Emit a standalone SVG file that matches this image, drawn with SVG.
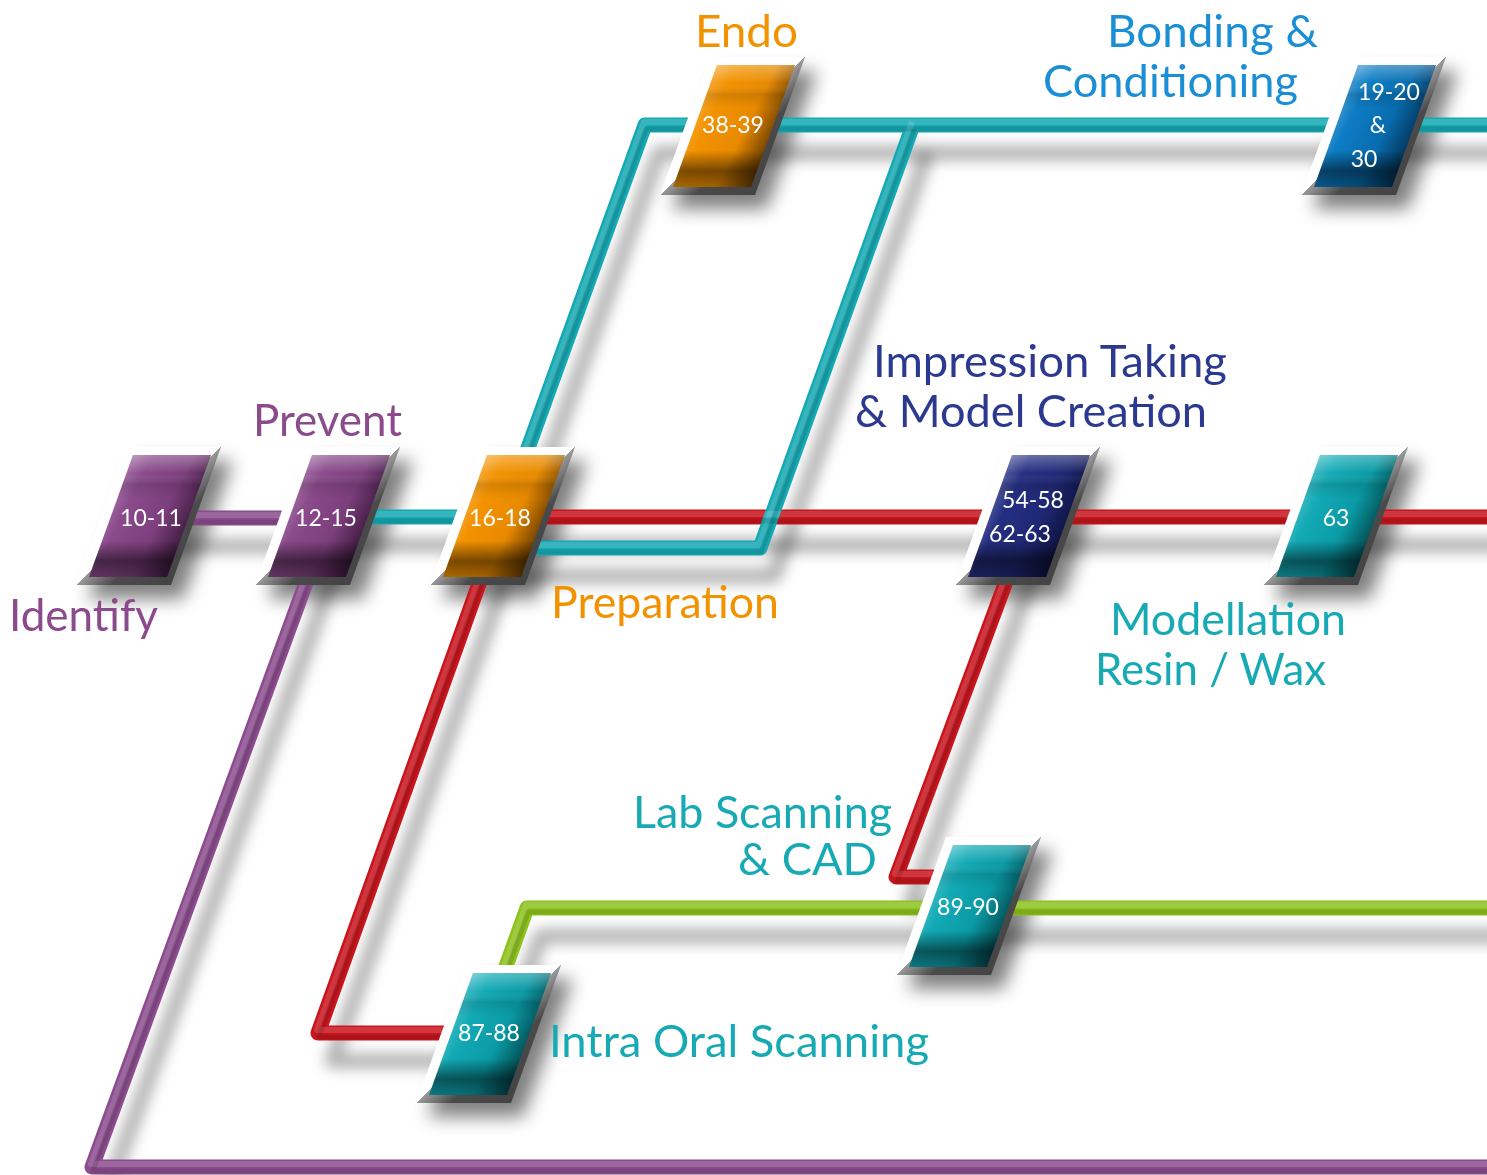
<svg xmlns="http://www.w3.org/2000/svg" xmlns:xlink="http://www.w3.org/1999/xlink" width="1487" height="1175" viewBox="0 0 1487 1175">
<style>
.ln{fill:none;stroke-width:15;stroke-linejoin:round}
.hl{fill:none;stroke:#fff;stroke-opacity:.14;stroke-width:6;stroke-linejoin:round}
.dk{fill:none;stroke:#000;stroke-opacity:.12;stroke-width:5;stroke-linejoin:round}
.sh{fill:none;stroke:#000;stroke-opacity:.3;stroke-width:15;stroke-linejoin:round}
.num{font-family:Lato,"Liberation Sans",sans-serif;font-size:23px;fill:#fff;text-anchor:middle}
.lbl{font-family:Lato,"Liberation Sans",sans-serif;font-size:44px}
</style>
<defs>
<path id="inner" d="M0,0 L78,0 L34,122 L-44,122 Z"/>
<path id="frame" d="M-7,-8 L88,-8 L38,130 L-57,130 Z"/>
<filter id="lsh" x="-10%" y="-10%" width="120%" height="120%"><feGaussianBlur stdDeviation="7"/></filter>
<filter id="nsh" x="-60%" y="-40%" width="220%" height="180%"><feGaussianBlur stdDeviation="9"/></filter>
<linearGradient id="bev" x1="0" y1="0" x2="1" y2="1">
<stop offset="0" stop-color="#fff"/><stop offset="0.5" stop-color="#fff"/><stop offset="0.5" stop-color="#9a9a9a"/><stop offset="0.62" stop-color="#4a4a4a"/><stop offset="1" stop-color="#3e3e3e"/>
</linearGradient>
<linearGradient id="ov" x1="0" y1="0" x2="0" y2="1">
<stop offset="0" stop-color="#fff" stop-opacity=".3"/>
<stop offset=".15" stop-color="#fff" stop-opacity="0"/>
<stop offset=".24" stop-color="#000" stop-opacity=".12"/>
<stop offset=".36" stop-color="#000" stop-opacity="0"/>
<stop offset=".7" stop-color="#000" stop-opacity="0"/>
<stop offset=".87" stop-color="#000" stop-opacity=".5"/>
<stop offset="1" stop-color="#000" stop-opacity=".3"/>
</linearGradient>
<linearGradient id="g-pu" x1="0" y1="0" x2="1" y2="0.5">
<stop offset="0" stop-color="#d4b2d4"/><stop offset=".42" stop-color="#8a4a8b"/><stop offset=".68" stop-color="#7c3f7d"/><stop offset="1" stop-color="#240b25"/>
</linearGradient>
<linearGradient id="g-or" x1="0" y1="0" x2="1" y2="0.5">
<stop offset="0" stop-color="#fbd49a"/><stop offset=".42" stop-color="#f39200"/><stop offset=".68" stop-color="#e88a00"/><stop offset="1" stop-color="#3a1f00"/>
</linearGradient>
<linearGradient id="g-te" x1="0" y1="0" x2="1" y2="0.5">
<stop offset="0" stop-color="#a6e2e6"/><stop offset=".42" stop-color="#12aab5"/><stop offset=".68" stop-color="#0a9aa5"/><stop offset="1" stop-color="#002a2d"/>
</linearGradient>
<linearGradient id="g-bl" x1="0" y1="0" x2="1" y2="0.5">
<stop offset="0" stop-color="#a5d4f0"/><stop offset=".42" stop-color="#0c7cc4"/><stop offset=".68" stop-color="#086cae"/><stop offset="1" stop-color="#001d36"/>
</linearGradient>
<linearGradient id="g-nv" x1="0" y1="0" x2="1" y2="0.5">
<stop offset="0" stop-color="#b8bde0"/><stop offset=".42" stop-color="#252f82"/><stop offset=".68" stop-color="#1f2874"/><stop offset="1" stop-color="#07092a"/>
</linearGradient>
</defs>
<rect width="1487" height="1175" fill="#fff"/>

<g id="shadows">
<g transform="translate(14,28)" filter="url(#lsh)">
<path class="sh" d="M150,518 H330"/>
<path class="sh" d="M330,517 L92,1167 H1520"/>
<path class="sh" d="M330,517 H503"/>
<path class="sh" d="M503,517 L645,125 H1520"/>
<path class="sh" d="M503,548 H760 L913,125"/>
<path class="sh" d="M503,517 H1520"/>
<path class="sh" d="M503,517 L318,1033 H490"/>
<path class="sh" d="M1030,517 L896,877 H960"/>
<path class="sh" d="M482,1033 L527,908 H1520"/>
</g>
<g fill="#000" opacity=".5" filter="url(#nsh)">
<use xlink:href="#frame" transform="translate(145,469)"/>
<use xlink:href="#frame" transform="translate(325,469)"/>
<use xlink:href="#frame" transform="translate(499,469)"/>
<use xlink:href="#frame" transform="translate(729,79)"/>
<use xlink:href="#frame" transform="translate(1370,79)"/>
<use xlink:href="#frame" transform="translate(1024,469)"/>
<use xlink:href="#frame" transform="translate(1332,469)"/>
<use xlink:href="#frame" transform="translate(965,859)"/>
<use xlink:href="#frame" transform="translate(485,987)"/>
</g>
</g>

<g id="connectors">
<g id="c-purple" stroke="#8c4d8e">
<path class="ln" d="M150,518 H330"/>
<path class="ln" d="M330,517 L92,1167 H1520"/>
</g>
<g id="c-red" stroke="#c8161e">
<path class="ln" d="M503,517 H1520"/>
<path class="ln" d="M503,517 L318,1033 H490"/>
<path class="ln" d="M1030,517 L896,877 H960"/>
</g>
<g id="c-teal" stroke="#17a9b3">
<path class="ln" d="M330,517 H503"/>
<path class="ln" d="M503,517 L645,125 H1520"/>
<path class="ln" d="M503,548 H760 L913,125"/>
</g>
<g id="c-green" stroke="#8dc21f">
<path class="ln" d="M482,1033 L527,908 H1520"/>
</g>
<g id="c-hl" transform="translate(-1,-3)">
<path class="hl" d="M150,518 H330"/>
<path class="hl" d="M330,517 L92,1167 H1520"/>
<path class="hl" d="M503,517 H1520"/>
<path class="hl" d="M503,517 L318,1033 H490"/>
<path class="hl" d="M1030,517 L896,877 H960"/>
<path class="hl" d="M330,517 H503"/>
<path class="hl" d="M503,517 L645,125 H1520"/>
<path class="hl" d="M503,548 H760 L913,125"/>
<path class="hl" d="M482,1033 L527,908 H1520"/>
</g>
<g id="c-dk" transform="translate(1,4)">
<path class="dk" d="M150,518 H330"/>
<path class="dk" d="M330,517 L92,1167 H1520"/>
<path class="dk" d="M503,517 H1520"/>
<path class="dk" d="M503,517 L318,1033 H490"/>
<path class="dk" d="M1030,517 L896,877 H960"/>
<path class="dk" d="M330,517 H503"/>
<path class="dk" d="M503,517 L645,125 H1520"/>
<path class="dk" d="M503,548 H760 L913,125"/>
<path class="dk" d="M482,1033 L527,908 H1520"/>
</g>
</g>

<g id="node-10-11" transform="translate(133,455)">
<use xlink:href="#frame" fill="url(#bev)"/><use xlink:href="#inner" fill="url(#g-pu)"/><use xlink:href="#inner" fill="url(#ov)"/>
<text class="num" x="18" y="71">10-11</text>
</g>
<g id="node-12-15" transform="translate(312,455)">
<use xlink:href="#frame" fill="url(#bev)"/><use xlink:href="#inner" fill="url(#g-pu)"/><use xlink:href="#inner" fill="url(#ov)"/>
<text class="num" x="14" y="71">12-15</text>
</g>
<g id="node-16-18" transform="translate(487,455)">
<use xlink:href="#frame" fill="url(#bev)"/><use xlink:href="#inner" fill="url(#g-or)"/><use xlink:href="#inner" fill="url(#ov)"/>
<text class="num" x="13" y="71">16-18</text>
</g>
<g id="node-38-39" transform="translate(717,65)">
<use xlink:href="#frame" fill="url(#bev)"/><use xlink:href="#inner" fill="url(#g-or)"/><use xlink:href="#inner" fill="url(#ov)"/>
<text class="num" x="16" y="68">38-39</text>
</g>
<g id="node-19-20" transform="translate(1358,65)">
<use xlink:href="#frame" fill="url(#bev)"/><use xlink:href="#inner" fill="url(#g-bl)"/><use xlink:href="#inner" fill="url(#ov)"/>
<text class="num" x="31" y="35">19-20</text>
<text class="num" x="20" y="68">&amp;</text>
<text class="num" x="6" y="102">30</text>
</g>
<g id="node-54-58" transform="translate(1012,455)">
<use xlink:href="#frame" fill="url(#bev)"/><use xlink:href="#inner" fill="url(#g-nv)"/><use xlink:href="#inner" fill="url(#ov)"/>
<text class="num" x="21" y="53">54-58</text>
<text class="num" x="8" y="87">62-63</text>
</g>
<g id="node-63" transform="translate(1320,455)">
<use xlink:href="#frame" fill="url(#bev)"/><use xlink:href="#inner" fill="url(#g-te)"/><use xlink:href="#inner" fill="url(#ov)"/>
<text class="num" x="16" y="71">63</text>
</g>
<g id="node-89-90" transform="translate(953,845)">
<use xlink:href="#frame" fill="url(#bev)"/><use xlink:href="#inner" fill="url(#g-te)"/><use xlink:href="#inner" fill="url(#ov)"/>
<text class="num" x="15" y="70">89-90</text>
</g>
<g id="node-87-88" transform="translate(473,973)">
<use xlink:href="#frame" fill="url(#bev)"/><use xlink:href="#inner" fill="url(#g-te)"/><use xlink:href="#inner" fill="url(#ov)"/>
<text class="num" x="16" y="68">87-88</text>
</g>

<g id="labels">
<text class="lbl" x="695" y="47" fill="#f39200" textLength="103" lengthAdjust="spacingAndGlyphs">Endo</text>
<text class="lbl" x="1107" y="47" fill="#1b8fd5" textLength="211" lengthAdjust="spacingAndGlyphs">Bonding &amp;</text>
<text class="lbl" x="1043" y="97" fill="#1b8fd5" textLength="255" lengthAdjust="spacingAndGlyphs">Conditioning</text>
<text class="lbl" x="873" y="377" fill="#2b3990" textLength="354" lengthAdjust="spacingAndGlyphs">Impression Taking</text>
<text class="lbl" x="855" y="427" fill="#2b3990" textLength="352" lengthAdjust="spacingAndGlyphs">&amp; Model Creation</text>
<text class="lbl" x="253" y="436" fill="#8b4a8c" textLength="149" lengthAdjust="spacingAndGlyphs">Prevent</text>
<text class="lbl" x="9" y="631" fill="#8b4a8c" textLength="149" lengthAdjust="spacingAndGlyphs">Identify</text>
<text class="lbl" x="551" y="618" fill="#f39200" textLength="228" lengthAdjust="spacingAndGlyphs">Preparation</text>
<text class="lbl" x="1110" y="635" fill="#17aab5" textLength="236" lengthAdjust="spacingAndGlyphs">Modellation</text>
<text class="lbl" x="1095" y="685" fill="#17aab5" textLength="231" lengthAdjust="spacingAndGlyphs">Resin / Wax</text>
<text class="lbl" x="633" y="828" fill="#17aab5" textLength="259" lengthAdjust="spacingAndGlyphs">Lab Scanning</text>
<text class="lbl" x="738" y="875" fill="#17aab5" textLength="139" lengthAdjust="spacingAndGlyphs">&amp; CAD</text>
<text class="lbl" x="549" y="1057" fill="#17aab5" textLength="380" lengthAdjust="spacingAndGlyphs">Intra Oral Scanning</text>
</g>
</svg>
